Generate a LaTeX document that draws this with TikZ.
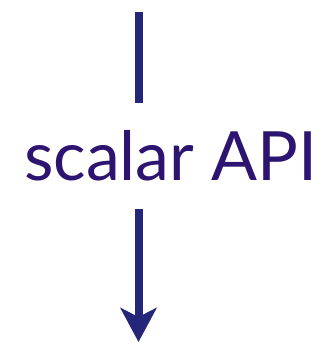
\documentclass[tikz,border=0pt]{standalone}
\usepackage{fontspec}
\setmainfont{Lato}
\usetikzlibrary{arrows.meta}
\definecolor{apitext}{RGB}{45,20,112}
\definecolor{apiline}{RGB}{37,37,122}
\tikzstyle{flow} = [line width=8pt, draw=apiline]
\tikzstyle{arrow} = [flow, -{Stealth[length=34pt,width=36pt,inset=9pt]}]
\tikzstyle{apilabel} = [text=apitext, font=\fontsize{68}{68}\selectfont, minimum height=105pt, inner sep=0pt]

\begin{document}
\begin{tikzpicture}[x=1pt,y=-1pt]
    \useasboundingbox (0,0) rectangle (325,343);
    \coordinate (in) at (138.5,12);
    \node[apilabel] (api) at (171,156) {scalar API};
    \coordinate (out) at (138.5,342);

    \draw[flow] (in) -- (in |- api.north);
    \draw[arrow] (out |- api.south) -- (out);
\end{tikzpicture}
\end{document}
